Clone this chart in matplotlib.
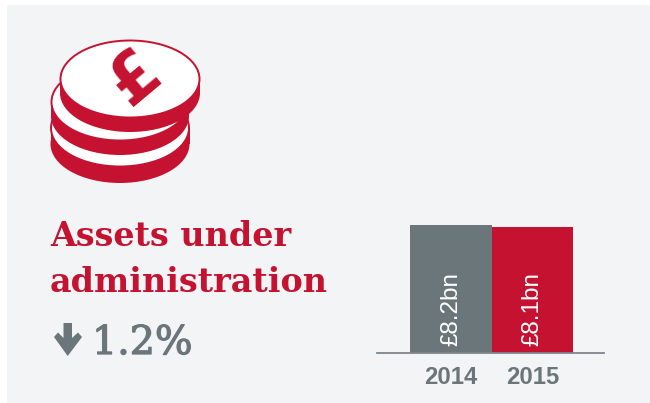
import matplotlib
matplotlib.use("Agg")
import matplotlib.pyplot as plt
import matplotlib.patheffects as pe
from matplotlib.patches import Ellipse, Rectangle, Polygon

years = ["2014", "2015"]
values = [8.2, 8.1]
value_labels = ["£8.2bn", "£8.1bn"]
bar_colors = ["#6b767b", "#c41230"]
title_lines = ["Assets under", "administration"]
change_text = "1.2%"

RED = "#c41230"
GREY = "#6b767b"
PANEL = "#f2f4f6"
W, H = 650, 403

fig = plt.figure(figsize=(W / 100, H / 100), dpi=100, facecolor="white")

# full-figure overlay in pixel coordinates (y down)
bg = fig.add_axes([0, 0, 1, 1], zorder=0)
bg.set_xlim(0, W)
bg.set_ylim(H, 0)
bg.axis("off")
bg.add_patch(Rectangle((7, 5), W - 7, H - 5, fc=PANEL, ec="none"))

# coins: (cx, face cy, width, height, rim depth), bottom to top
coins = [(120, 128, 139, 78, 16), (120, 102, 138, 78, 14), (130, 79, 140, 78, 14)]
for cx, cy, w, h, rim in coins:
    bg.add_patch(Ellipse((cx, cy + rim), w, h, fc=RED, ec="none"))
    bg.add_patch(Rectangle((cx - w / 2, cy), w, rim, fc=RED, ec="none"))
    bg.add_patch(Ellipse((cx, cy), w - 1, h - 1, fc="white", ec=RED, lw=1.4))

bg.text(135, 78, "£", family="DejaVu Sans", weight="bold", fontsize=48, color=RED,
        rotation=40, rotation_mode="anchor", ha="center", va="center")

for line, y in zip(title_lines, [237, 283]):
    bg.text(50, y, line, family="DejaVu Serif", weight="bold", fontsize=24, color=RED,
            ha="left", va="center")

# down arrow icon
bg.add_patch(Polygon([(63.5, 323), (72, 323), (72, 338), (78, 332.5), (82, 337), (67.7, 356),
                      (54, 337), (58, 332.5), (63.5, 338)], closed=True, fc=GREY, ec="none"))
bg.text(92, 354, change_text, family="DejaVu Serif", fontsize=28.5, color=GREY,
        ha="left", va="baseline",
        path_effects=[pe.withStroke(linewidth=0.9, foreground=GREY)])

# bar chart
left, right, base, top = 377, 604, 352.5, 205
ax = fig.add_axes([left / W, 1 - base / H, (right - left) / W, (base - top) / H], zorder=1)
ax.patch.set_alpha(0)
step = 81.5
ax.set_xlim((left - 451) / step, (right - 451) / step)
ax.set_ylim(0, (base - top) / (127.5 / 8.2))
positions = list(range(len(years)))
ax.bar(positions, values, width=1.0, color=bar_colors, linewidth=0)
for p, label in zip(positions, value_labels):
    ax.annotate(label, (p, 0), xytext=(0, 4.5), textcoords="offset points", rotation=90,
                ha="center", va="bottom", family="Liberation Sans", fontsize=17.5, color="white")
for s in ["top", "left", "right"]:
    ax.spines[s].set_visible(False)
ax.spines["bottom"].set_color("#7d868b")
ax.spines["bottom"].set_linewidth(1.3)
ax.set_yticks([])
ax.set_xticks(positions, years)
ax.tick_params(axis="x", length=0, pad=10, labelsize=17.2, labelcolor=GREY)
for t in ax.get_xticklabels():
    t.set_family("Liberation Sans")
    t.set_weight("bold")

fig.savefig("out.png", dpi=100, facecolor="white")
